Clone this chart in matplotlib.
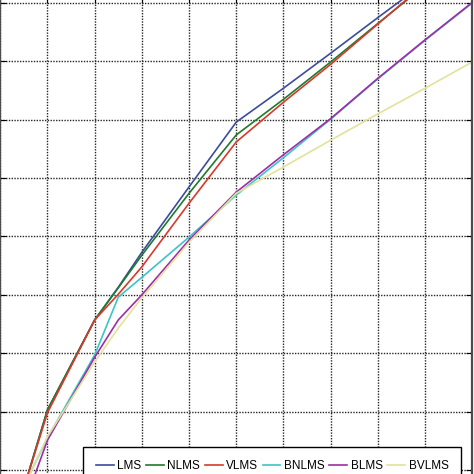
import matplotlib
matplotlib.use("Agg")
import matplotlib.pyplot as plt

# x positions of the read points (grid units)
x = [0.5, 1, 2, 2.5, 3, 4, 5, 6, 7, 8, 9, 10]

lms   = [-0.31, 1.03, 2.57, 3.13, 3.73, 4.85, 5.96, 6.54, 7.14, 7.75, 8.35, 8.95]
nlms  = [-0.31, 1.03, 2.57, 3.12, 3.68, 4.74, 5.74, 6.35, 6.99, 7.65, 8.30, 8.95]
vlms  = [-0.31, 0.98, 2.57, 3.01, 3.48, 4.57, 5.62, 6.30, 6.95, 7.64, 8.33, 9.00]
bnlms = [-0.28, 0.55, 1.97, 2.96, 3.30, 3.99, 4.71, 5.35, 6.01, 6.70, 7.36, 8.00]
blms  = [-0.60, 0.51, 1.93, 2.57, 3.00, 3.94, 4.76, 5.40, 6.02, 6.71, 7.37, 8.01]
bvlms = [-0.29, 0.57, 1.85, 2.43, 2.95, 3.90, 4.74, 5.19, 5.65, 6.10, 6.54, 6.99]

names = ["LMS", "NLMS", "VLMS", "BNLMS", "BLMS", "BVLMS"]
series = [lms, nlms, vlms, bnlms, blms, bvlms]
colors = ["#3b4c9c", "#1f7a2c", "#d8392b", "#3cc4c8", "#a02ca8", "#e2e29c"]

fig = plt.figure(figsize=(4.74, 4.74), dpi=100)
# axes runs past the top and bottom of the picture (the reference is a crop)
ax = fig.add_axes([0.0006, -0.053, 472 / 474, 1.059])

for ys, c, n in zip(series, colors, names):
    ax.plot(x, ys, color=c, lw=1.2, label=n)

ax.set_xlim(0, 10)
ax.set_ylim(-0.5, 8.1)
ax.set_xticks(range(0, 11))
ax.set_yticks(range(0, 9))
ax.grid(True, color="0.15", ls=(0, (1, 1)), lw=1.0)
ax.tick_params(direction="in", length=4, top=True, right=True,
               labelleft=False, labelbottom=False)
for s in ax.spines.values():
    s.set_linewidth(1.6)
    s.set_color("0.3")

leg = ax.legend(loc="upper left", bbox_to_anchor=(83 / 474, 1 - 447 / 474),
                bbox_transform=fig.transFigure, ncol=6, frameon=True,
                fancybox=False, framealpha=1, edgecolor="black",
                handlelength=1.5, handletextpad=0.3, columnspacing=0.4,
                borderpad=1.1, borderaxespad=0,
                prop={"family": ["Liberation Sans", "DejaVu Sans"], "size": 8.5})
leg.get_frame().set_linewidth(1.0)

fig.savefig("out.png", dpi=100)
